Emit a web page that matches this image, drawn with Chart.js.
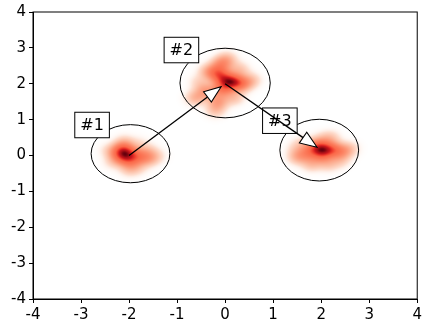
<!DOCTYPE html>
<html>
<head>
<meta charset="utf-8">
<script src="https://cdn.jsdelivr.net/npm/chart.js@4/dist/chart.umd.min.js"></script>
<style>
  html, body { margin: 0; padding: 0; background: #fff; }
  #wrap { width: 425px; height: 325px; }
</style>
</head>
<body>
<div id="wrap"><canvas id="c"></canvas></div>
<script>
// Axis tick values
const xTicks = [-4, -3, -2, -1, 0, 1, 2, 3, 4];
const yTicks = [-4, -3, -2, -1, 0, 1, 2, 3, 4];

// Sample clusters: [x, y, weight]
const cluster1 = [
  [-2.12, 0.18, 1.0], [-2.05, 0.05, 0.9], [-1.98, -0.15, 0.8], [-2.15, -0.05, 0.7],
  [-2.25, 0.08, 0.5], [-1.85, 0.0, 0.6], [-1.70, -0.05, 0.55], [-1.55, -0.10, 0.4],
  [-1.60, 0.15, 0.3], [-2.00, -0.40, 0.35], [-2.10, 0.40, 0.3], [-2.35, -0.20, 0.25],
  [-1.80, 0.35, 0.2], [-1.80, -0.35, 0.25], [-2.45, 0.15, 0.2], [-1.40, 0.0, 0.2]
];
const cluster2 = [
  [0.17, 2.05, 1.0], [-0.15, 2.28, 0.85], [0.00, 2.10, 0.8], [-0.05, 1.85, 0.7],
  [0.35, 1.98, 0.55], [0.55, 2.10, 0.3], [-0.08, 2.55, 0.55], [0.05, 2.70, 0.3],
  [-0.35, 2.35, 0.35], [-0.40, 1.80, 0.5], [-0.62, 1.60, 0.4], [-0.15, 1.50, 0.5],
  [-0.20, 1.25, 0.3], [0.20, 1.60, 0.3], [0.30, 2.40, 0.3], [-0.55, 2.05, 0.2]
];
const cluster3 = [
  [2.05, 0.18, 1.0], [1.88, 0.22, 0.8], [2.25, 0.15, 0.75], [2.00, 0.00, 0.6],
  [1.70, 0.05, 0.55], [1.50, -0.05, 0.4], [2.45, 0.10, 0.45], [2.60, 0.20, 0.25],
  [2.20, 0.50, 0.3], [1.80, -0.25, 0.35], [2.15, -0.25, 0.3], [1.60, 0.35, 0.2],
  [2.40, -0.15, 0.25], [1.45, 0.20, 0.15], [2.00, 0.45, 0.2]
];

// Ellipses around each cluster: centre and half-axes in data units
const ringCenters = [[-1.97, 0.05], [0.0, 2.02], [1.96, 0.15]];
const ringRadii = [[0.82, 0.81], [0.94, 0.97], [0.82, 0.86]];

// Cluster labels and where they sit
const labelTexts = ['#1', '#2', '#3'];
const labelAt = [[-2.77, 0.85], [-0.91, 2.94], [1.14, 0.97]];

// Arrows linking the clusters
const arrowFrom = [[-2.0, 0.0], [0.0, 2.0]];
const arrowTo = [[0.0, 2.0], [2.0, 0.15]];

const FONT = 'DejaVu Sans';
const KERNEL = 0.15; // smoothing width in data units

// Reds colour map
const REDS = [
  [255, 245, 240], [254, 224, 210], [252, 187, 161], [252, 146, 114],
  [251, 106, 74], [239, 59, 44], [203, 24, 29], [165, 15, 21], [103, 0, 13]
];
function reds(v) {
  const t = Math.max(0, Math.min(1, v)) * (REDS.length - 1);
  const i = Math.min(REDS.length - 2, Math.floor(t));
  const f = t - i;
  const a = REDS[i], b = REDS[i + 1];
  return [a[0] + (b[0] - a[0]) * f, a[1] + (b[1] - a[1]) * f, a[2] + (b[2] - a[2]) * f];
}
// Tone curve: broad mid-level plateau, dark only near the peak
function tone(v) {
  const hi = Math.max(0, (v - 0.6) / 0.4);
  return 0.55 * (1 - Math.pow(1 - v, 2.5)) + 0.45 * Math.pow(hi, 1.5);
}

const toPoints = (arr) => arr.map(p => ({ x: p[0], y: p[1], w: p[2] }));

// Smoothed density image for every cluster dataset
const densityPlugin = {
  id: 'density',
  beforeDatasetsDraw(chart) {
    const { ctx, chartArea: a, scales: { x, y } } = chart;
    const w = Math.round(a.right - a.left), h = Math.round(a.bottom - a.top);
    const sx = KERNEL * Math.abs(x.getPixelForValue(1) - x.getPixelForValue(0));
    const sy = KERNEL * Math.abs(y.getPixelForValue(1) - y.getPixelForValue(0));
    const total = new Float32Array(w * h);
    chart.data.datasets.forEach(ds => {
      const g = new Float32Array(w * h);
      let max = 0;
      ds.data.forEach(p => {
        const px = x.getPixelForValue(p.x) - a.left;
        const py = y.getPixelForValue(p.y) - a.top;
        const x0 = Math.max(0, Math.floor(px - 3.5 * sx)), x1 = Math.min(w - 1, Math.ceil(px + 3.5 * sx));
        const y0 = Math.max(0, Math.floor(py - 3.5 * sy)), y1 = Math.min(h - 1, Math.ceil(py + 3.5 * sy));
        for (let j = y0; j <= y1; j++) {
          const dy = (j + 0.5 - py) / sy;
          for (let i = x0; i <= x1; i++) {
            const dx = (i + 0.5 - px) / sx;
            const k = g[j * w + i] += p.w * Math.exp(-0.5 * (dx * dx + dy * dy));
            if (k > max) max = k;
          }
        }
      });
      if (max > 0) for (let n = 0; n < g.length; n++) total[n] = Math.max(total[n], g[n] / max);
    });
    const off = document.createElement('canvas');
    off.width = w; off.height = h;
    const octx = off.getContext('2d');
    const img = octx.createImageData(w, h);
    for (let n = 0; n < total.length; n++) {
      const v = total[n];
      if (v < 0.005) continue;
      const c = reds(tone(v));
      img.data[n * 4] = c[0];
      img.data[n * 4 + 1] = c[1];
      img.data[n * 4 + 2] = c[2];
      img.data[n * 4 + 3] = Math.min(1, v / 0.1) * 255;
    }
    octx.putImageData(img, 0, 0);
    ctx.drawImage(off, a.left, a.top);
  }
};

// Frame, ellipses, labels and arrows
const overlayPlugin = {
  id: 'overlay',
  afterDatasetsDraw(chart) {
    const { ctx, chartArea: a, scales: { x, y } } = chart;
    const ux = Math.abs(x.getPixelForValue(1) - x.getPixelForValue(0));
    const uy = Math.abs(y.getPixelForValue(1) - y.getPixelForValue(0));
    ctx.save();
    ctx.strokeStyle = '#000';
    ctx.lineWidth = 1;
    ctx.strokeRect(a.left, a.top, a.right - a.left, a.bottom - a.top);

    ringCenters.forEach((c, i) => {
      ctx.beginPath();
      ctx.ellipse(x.getPixelForValue(c[0]), y.getPixelForValue(c[1]),
        ringRadii[i][0] * ux, ringRadii[i][1] * uy, 0, 0, Math.PI * 2);
      ctx.lineWidth = 1;
      ctx.strokeStyle = '#000';
      ctx.stroke();
    });

    ctx.font = '16px "' + FONT + '"';
    ctx.textAlign = 'center';
    ctx.textBaseline = 'middle';
    labelTexts.forEach((t, i) => {
      const cx = x.getPixelForValue(labelAt[i][0]);
      const cy = y.getPixelForValue(labelAt[i][1]);
      const tw = ctx.measureText(t).width;
      const bw = tw + 11, bh = 25.5;
      ctx.fillStyle = '#fff';
      ctx.fillRect(cx - bw / 2, cy - bh / 2, bw, bh);
      ctx.strokeStyle = '#000';
      ctx.lineWidth = 1;
      ctx.strokeRect(cx - bw / 2, cy - bh / 2, bw, bh);
      ctx.fillStyle = '#000';
      ctx.fillText(t, cx, cy + 1);
    });

    arrowFrom.forEach((f, i) => {
      const x0 = x.getPixelForValue(f[0]), y0 = y.getPixelForValue(f[1]);
      const x1 = x.getPixelForValue(arrowTo[i][0]), y1 = y.getPixelForValue(arrowTo[i][1]);
      const len = Math.hypot(x1 - x0, y1 - y0);
      const ux2 = (x1 - x0) / len, uy2 = (y1 - y0) / len;
      const shrink = 5, headL = 17, headW = 6.5;
      const tx = x1 - ux2 * shrink, ty = y1 - uy2 * shrink;
      const bx = tx - ux2 * headL, by = ty - uy2 * headL;
      ctx.beginPath();
      ctx.moveTo(x0, y0);
      ctx.lineTo(bx, by);
      ctx.strokeStyle = '#000';
      ctx.lineWidth = 1.3;
      ctx.stroke();
      ctx.beginPath();
      ctx.moveTo(tx, ty);
      ctx.lineTo(bx - uy2 * headW, by + ux2 * headW);
      ctx.lineTo(bx + uy2 * headW, by - ux2 * headW);
      ctx.closePath();
      ctx.fillStyle = '#fff';
      ctx.fill();
      ctx.lineWidth = 1.1;
      ctx.stroke();
    });
    ctx.restore();
  }
};

const tickFont = { family: FONT, size: 15 };
const axis = (ticks, fit) => ({
  type: 'linear',
  min: ticks[0],
  max: ticks[ticks.length - 1],
  afterBuildTicks: s => { s.ticks = ticks.map(v => ({ value: v })); },
  afterFit: fit,
  grid: { display: true, drawOnChartArea: false, drawTicks: true, tickLength: 4, color: '#000', tickWidth: 1 },
  border: { display: true, color: '#000', width: 1 },
  ticks: { color: '#000', font: tickFont, padding: 3 }
});

new Chart(document.getElementById('c'), {
  type: 'scatter',
  data: {
    datasets: [
      { label: '#1', data: toPoints(cluster1), pointRadius: 0 },
      { label: '#2', data: toPoints(cluster2), pointRadius: 0 },
      { label: '#3', data: toPoints(cluster3), pointRadius: 0 }
    ]
  },
  options: {
    responsive: true,
    maintainAspectRatio: false,
    animation: false,
    devicePixelRatio: 1,
    layout: { padding: { top: 10, right: 6, left: 0, bottom: 0 } },
    plugins: { legend: { display: false }, tooltip: { enabled: false } },
    events: [],
    scales: {
      x: axis(xTicks, s => { s.height = 26; }),
      y: axis(yTicks, s => { s.width = 33; })
    }
  },
  plugins: [densityPlugin, overlayPlugin]
});
</script>
</body>
</html>
